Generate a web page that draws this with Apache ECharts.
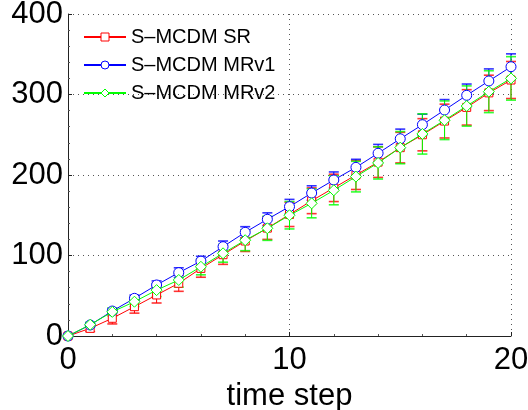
<!DOCTYPE html>
<html>
<head>
<meta charset="utf-8">
<script src="https://cdn.jsdelivr.net/npm/echarts@6/dist/echarts.min.js"></script>
<style>
html,body{margin:0;padding:0;background:#fff;}
#chart{width:528px;height:410px;}
</style>
</head>
<body>
<div id="chart"></div>
<script>
const timeSteps = [0,1,2,3,4,5,6,7,8,9,10,11,12,13,14,15,16,17,18,19,20];
const seriesNames = ['S\u2013MCDM SR','S\u2013MCDM MRv1','S\u2013MCDM MRv2'];
const srMean   = [0, 9.5, 22, 36.4, 51, 65.5, 84, 101, 118, 134, 151, 168, 184, 200, 216, 234, 250, 267, 284, 302, 318];
const mrv1Mean = [0, 13.7, 31, 46.8, 63.4, 78.7, 93, 111, 128.8, 145, 160.7, 177.6, 193.8, 209.5, 227, 245, 262.5, 280.7, 299, 316.8, 334.5];
const mrv2Mean = [0, 14, 30, 42.6, 57, 69.6, 86, 102.7, 119, 133.8, 150, 164.8, 181, 198, 215, 234, 251, 268, 285.7, 303.5, 320];
const srErr    = [0, 4, 7, 8, 10, 10, 11, 12, 13, 14, 15, 16, 17, 18, 19, 19, 20, 21, 22, 22, 23];
const mrv1Err  = [0, 2, 3, 4, 5, 6, 6, 7, 7, 8, 9, 9, 10, 10, 11, 12, 13, 13, 14, 15, 16];
const mrv2Err  = [0, 3, 5, 6, 8, 9, 10, 11, 13, 15, 17, 18, 18, 19, 20, 20, 25, 24, 25, 26, 27];
const xTicks = [0, 10, 20];
const yTicks = [0, 100, 200, 300, 400];

const colors = ['#ff0000', '#0000ff', '#00ff00'];
const symbols = ['rect', 'circle', 'diamond'];
const symbolSizes = [8, 10, 11];
const means = [srMean, mrv1Mean, mrv2Mean];
const errs = [srErr, mrv1Err, mrv2Err];

const FONT = 'Liberation Sans';
const series = [];
for (let s = 0; s < 3; s++) {
  const errData = timeSteps.map((t, i) => [t, means[s][i] - errs[s][i], means[s][i] + errs[s][i]]);
  series.push({
    type: 'custom',
    name: seriesNames[s] + '_err',
    silent: true,
    z: 2 + s,
    data: errData,
    encode: {x: 0, y: [1, 2]},
    renderItem: function (params, api) {
      const x = api.value(0);
      const lo = api.coord([x, api.value(1)]);
      const hi = api.coord([x, api.value(2)]);
      const w = 5;
      const st = {stroke: colors[s], lineWidth: 1};
      const cap = {stroke: colors[s], lineWidth: 1.6, opacity: 0.8};
      return {
        type: 'group',
        children: [
          {type: 'line', shape: {x1: lo[0], y1: lo[1], x2: hi[0], y2: hi[1]}, style: st},
          {type: 'line', shape: {x1: lo[0] - w, y1: lo[1], x2: lo[0] + w, y2: lo[1]}, style: cap},
          {type: 'line', shape: {x1: hi[0] - w, y1: hi[1], x2: hi[0] + w, y2: hi[1]}, style: cap}
        ]
      };
    }
  });
  series.push({
    type: 'line',
    name: seriesNames[s],
    z: 5 + s,
    data: timeSteps.map((t, i) => [t, means[s][i]]),
    symbol: symbols[s],
    symbolSize: symbolSizes[s],
    showAllSymbol: true,
    lineStyle: {color: colors[s], width: 1},
    itemStyle: {color: '#fff', borderColor: colors[s], borderWidth: 1},
    emphasis: {disabled: true},
    animation: false
  });
}

const chart = echarts.init(document.getElementById('chart'), null, {renderer: 'canvas'});
chart.setOption({
  animation: false,
  backgroundColor: '#fff',
  grid: {left: 68, right: 17, top: 14, bottom: 74, containLabel: false, outerBoundsMode: 'none'},
  legend: {
    data: seriesNames.map((n, i) => ({name: n, itemStyle: {color: '#fff', borderColor: colors[i], borderWidth: 1}})),
    orient: 'vertical',
    left: 83,
    top: 27,
    itemWidth: 42,
    itemHeight: 10,
    itemGap: 8,
    padding: 0,
    textStyle: {fontFamily: FONT, fontSize: 20, color: '#000', padding: [0, 0, 0, 0]},
    selectedMode: false
  },
  xAxis: {
    type: 'value',
    min: 0, max: 20, interval: 10,
    name: 'time step',
    nameLocation: 'middle',
    nameGap: 42,
    nameTextStyle: {fontFamily: FONT, fontSize: 31, color: '#000'},
    axisLine: {onZero: false, lineStyle: {color: '#222', width: 1}},
    axisTick: {inside: true, length: 4, lineStyle: {color: '#222'}},
    minorTick: {show: true, splitNumber: 5, length: 2, lineStyle: {color: '#555'}},
    axisLabel: {fontFamily: FONT, fontSize: 31, color: '#000', margin: 9,
      formatter: v => xTicks.includes(v) ? String(v) : ''},
    splitLine: {show: true, lineStyle: {color: '#555', type: [1, 4], width: 1}}
  },
  yAxis: {
    type: 'value',
    min: 0, max: 400, interval: 100,
    axisLine: {show: true, onZero: false, lineStyle: {color: '#222', width: 1}},
    axisTick: {show: true, inside: true, length: 4, lineStyle: {color: '#222'}},
    minorTick: {show: true, splitNumber: 5, length: 2, lineStyle: {color: '#555'}},
    axisLabel: {fontFamily: FONT, fontSize: 31, color: '#000', margin: 5,
      formatter: v => yTicks.includes(v) ? String(v) : ''},
    splitLine: {show: true, lineStyle: {color: '#555', type: [1, 4], width: 1}}
  },
  series: series
});
</script>
</body>
</html>
